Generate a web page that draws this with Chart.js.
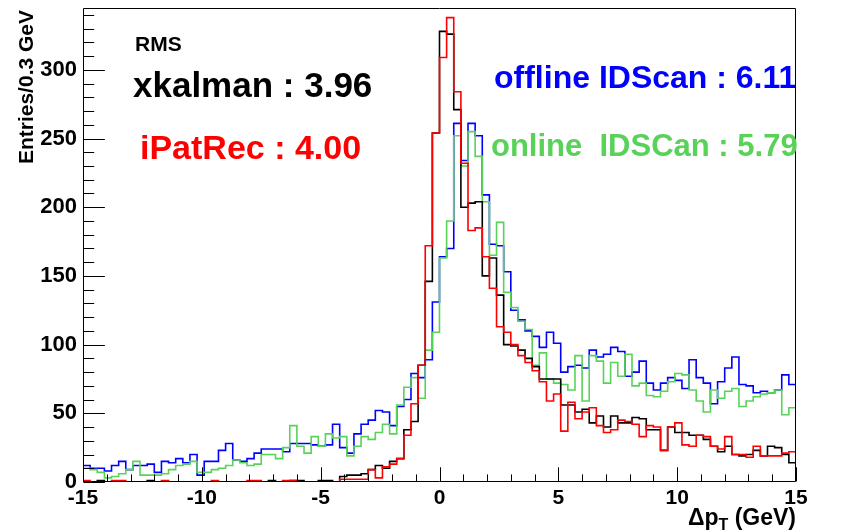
<!DOCTYPE html>
<html>
<head>
<meta charset="utf-8">
<script src="https://cdn.jsdelivr.net/npm/chart.js@4.4.1/dist/chart.umd.min.js"></script>
<style>
  html, body { margin: 0; padding: 0; background: #ffffff; }
  #wrap { width: 841px; height: 531px; }
</style>
</head>
<body>
<div id="wrap"><canvas id="c" width="841" height="531"></canvas></div>
<script>
// Histogram binning: 100 bins of 0.3 GeV between -15 and 15 GeV
const xMin = -15;
const xMax = 15;
const binWidth = 0.3;

// Bin contents (entries per 0.3 GeV), one array per reconstruction algorithm
const xkalman = [
  0, 0, 1, 0, 0, 0, 0, 0, 0, 1,
  0, 0, 0, 0, 0, 0, 0, 0, 0, 0,
  0, 0, 0, 0, 0, 0, 1, 0, 0, 1,
  1, 0, 0, 1, 1, 0, 4, 5, 5, 6,
  9, 12, 10, 15, 17, 38, 44, 85, 146, 254,
  328, 326, 271, 200, 203, 204, 150, 163, 136, 100,
  99, 96, 90, 84, 75, 75, 75, 56, 56, 51,
  53, 43, 48, 40, 48, 43, 43, 47, 46, 38,
  38, 23, 40, 36, 36, 34, 34, 31, 26, 22,
  26, 20, 19, 20, 23, 19, 26, 25, 20, 14
];
const iPatRec = [
  1, 0, 0, 0, 1, 1, 0, 0, 0, 0,
  0, 1, 0, 0, 0, 0, 0, 0, 1, 0,
  0, 0, 0, 1, 1, 0, 0, 0, 1, 1,
  0, 0, 0, 0, 0, 0, 2, 2, 2, 2,
  9, 3, 11, 13, 17, 34, 57, 85, 172, 254,
  309, 338, 284, 232, 183, 185, 164, 141, 113, 109,
  100, 92, 87, 81, 73, 59, 64, 37, 58, 46,
  51, 54, 41, 36, 38, 45, 44, 42, 33, 41,
  40, 23, 40, 43, 27, 26, 34, 33, 26, 24,
  33, 20, 20, 18, 26, 19, 19, 19, 21, 22
];
const offlineIDScan = [
  12, 10, 10, 8, 12, 15, 9, 12, 12, 13,
  7, 15, 14, 17, 14, 20, 5, 15, 15, 23,
  28, 16, 15, 17, 21, 24, 24, 24, 22, 28,
  28, 28, 27, 26, 27, 42, 25, 21, 35, 42,
  45, 52, 51, 41, 55, 60, 79, 76, 89, 131,
  164, 170, 261, 234, 261, 252, 209, 173, 172, 153,
  125, 118, 110, 106, 98, 109, 101, 80, 84, 85,
  83, 96, 91, 93, 98, 95, 77, 80, 88, 72,
  67, 72, 76, 74, 68, 89, 76, 72, 57, 73,
  83, 91, 71, 70, 65, 66, 65, 67, 78, 71
];
const onlineIDSCan = [
  10, 9, 7, 3, 4, 6, 9, 15, 5, 5,
  5, 6, 9, 12, 13, 15, 7, 7, 9, 10,
  12, 16, 14, 12, 13, 20, 20, 17, 25, 41,
  26, 21, 33, 26, 35, 32, 33, 19, 26, 33,
  31, 36, 42, 35, 56, 69, 76, 61, 96, 109,
  163, 190, 252, 230, 255, 237, 204, 165, 189, 138,
  127, 117, 111, 85, 94, 75, 72, 71, 67, 92,
  59, 92, 88, 72, 87, 77, 93, 70, 72, 63,
  62, 66, 73, 79, 78, 67, 59, 51, 67, 61,
  66, 68, 55, 59, 62, 64, 65, 67, 49, 54
];

// RMS of each distribution
const rmsLabels = ['xkalman : 3.96', 'iPatRec : 4.00', 'offline IDScan : 6.11', 'online  IDSCan : 5.79'];

// Axis ticks
const xTickValues = [-15, -10, -5, 0, 5, 10, 15];
const yTickValues = [0, 50, 100, 150, 200, 250, 300];
const yMaxValue = 345;

const FONT = '"Liberation Sans", Arial, Helvetica, sans-serif';
const GREEN = 'rgb(88,210,88)';

// Turn bin contents into step points at the low edge of each bin (+ closing point at xMax)
function histPoints(counts) {
  const pts = counts.map((c, i) => ({ x: xMin + i * binWidth, y: c }));
  pts.push({ x: xMax, y: counts[counts.length - 1] });
  return pts;
}

function histDataset(label, counts, color) {
  return {
    label: label,
    data: histPoints(counts),
    borderColor: color,
    backgroundColor: color,
    borderWidth: 1.6,
    pointRadius: 0,
    stepped: 'before',
    fill: false,
    tension: 0
  };
}

// Frame, inward ticks, axis titles and RMS annotations drawn in ROOT style
const rootStyle = {
  id: 'rootStyle',
  afterDatasetsDraw(chart) {
    const ctx = chart.ctx;
    const a = chart.chartArea;
    const xs = chart.scales.x;
    const ys = chart.scales.y;
    const L = Math.round(a.left) + 0.5, R = Math.round(a.right) - 0.5;
    const T = Math.round(a.top) + 0.5, B = Math.round(a.bottom) - 0.5;
    ctx.save();
    ctx.strokeStyle = '#000';
    ctx.lineWidth = 1;
    ctx.beginPath();
    ctx.rect(L, T, R - L, B - T);
    ctx.stroke();

    // x ticks: major every 5 GeV, minor every 1 GeV, pointing into the frame
    const xMajorLen = 0.03 * (a.bottom - a.top);
    ctx.beginPath();
    for (let v = xMin; v <= xMax; v += 1) {
      const px = Math.round(xs.getPixelForValue(v)) + 0.5;
      const len = (v % 5 === 0) ? xMajorLen : xMajorLen / 2;
      ctx.moveTo(px, B);
      ctx.lineTo(px, B - len);
    }
    // y ticks: major every 50, minor every 10
    const yMajorLen = 0.03 * (a.right - a.left);
    for (let v = 0; v <= yMaxValue; v += 10) {
      const py = Math.round(ys.getPixelForValue(v)) + 0.5;
      const len = (v % 50 === 0) ? yMajorLen : yMajorLen / 2;
      ctx.moveTo(L, py);
      ctx.lineTo(L + len, py);
    }
    ctx.stroke();
    ctx.restore();
  },
  afterDraw(chart) {
    const ctx = chart.ctx;
    const a = chart.chartArea;
    ctx.save();
    ctx.textBaseline = 'alphabetic';

    // y axis title, rotated, aligned to the top of the axis
    ctx.save();
    ctx.translate(33, a.top + 2);
    ctx.rotate(-Math.PI / 2);
    ctx.font = 'bold 21px ' + FONT;
    ctx.fillStyle = '#000';
    ctx.textAlign = 'right';
    ctx.fillText('Entries/0.3 GeV', 0, 0);
    ctx.restore();

    // x axis title: Δp_T (GeV), right aligned at the end of the axis
    ctx.fillStyle = '#000';
    ctx.textAlign = 'left';
    const mainFont = 'bold 23px ' + FONT;
    const subFont = 'bold 16px ' + FONT;
    ctx.font = mainFont;
    const w1 = ctx.measureText('\u0394p').width;
    const w3 = ctx.measureText(' (GeV)').width;
    ctx.font = subFont;
    const w2 = ctx.measureText('T').width;
    const x0 = a.right - (w1 + w2 + w3);
    const base = 525;
    ctx.font = mainFont;
    ctx.fillText('\u0394p', x0, base);
    ctx.font = subFont;
    ctx.fillText('T', x0 + w1, base + 5);
    ctx.font = mainFont;
    ctx.fillText(' (GeV)', x0 + w1 + w2, base);

    // RMS annotations
    ctx.font = 'bold 21px ' + FONT;
    ctx.fillStyle = '#000';
    ctx.fillText('RMS', 135, 51);
    ctx.font = 'bold 35px ' + FONT;
    ctx.fillStyle = '#000000';
    ctx.fillText(rmsLabels[0], 133, 97);
    ctx.font = 'bold 34px ' + FONT;
    ctx.fillStyle = '#ff0000';
    ctx.fillText(rmsLabels[1], 140, 159);
    ctx.font = 'bold 32px ' + FONT;
    ctx.fillStyle = '#0000ff';
    ctx.fillText(rmsLabels[2], 494, 88);
    ctx.font = 'bold 31px ' + FONT;
    ctx.fillStyle = GREEN;
    ctx.fillText(rmsLabels[3], 491, 156);
    ctx.restore();
  }
};

const chart = new Chart(document.getElementById('c'), {
  type: 'line',
  data: {
    datasets: [
      histDataset('iPatRec', iPatRec, '#ff0000'),
      histDataset('xkalman', xkalman, '#000000'),
      histDataset('online IDSCan', onlineIDSCan, GREEN),
      histDataset('offline IDScan', offlineIDScan, '#0000ff')
    ]
  },
  options: {
    responsive: false,
    animation: false,
    devicePixelRatio: 1,
    layout: { padding: { left: 0, right: 45, top: 8, bottom: 0 } },
    plugins: {
      legend: { display: false },
      tooltip: { enabled: false },
      title: { display: false }
    },
    scales: {
      x: {
        type: 'linear',
        min: xMin,
        max: xMax,
        grid: { display: false, drawTicks: false },
        border: { display: false },
        afterBuildTicks: (s) => { s.ticks = xTickValues.map(v => ({ value: v })); },
        ticks: {
          autoSkip: false,
          maxRotation: 0,
          padding: 4,
          color: '#000',
          font: { family: FONT, weight: 'bold', size: 21 },
          callback: (v) => String(v)
        },
        afterFit: (s) => { s.height = 49; s.paddingLeft = 0; s.paddingRight = 0; }
      },
      y: {
        type: 'linear',
        min: 0,
        max: yMaxValue,
        grid: { display: false, drawTicks: false },
        border: { display: false },
        afterBuildTicks: (s) => { s.ticks = yTickValues.map(v => ({ value: v })); },
        ticks: {
          autoSkip: false,
          padding: 6,
          color: '#000',
          font: { family: FONT, weight: 'bold', size: 22 },
          callback: (v) => String(v)
        },
        afterFit: (s) => { s.width = 83; s.paddingTop = 0; s.paddingBottom = 0; }
      }
    }
  },
  plugins: [rootStyle]
});
</script>
</body>
</html>
